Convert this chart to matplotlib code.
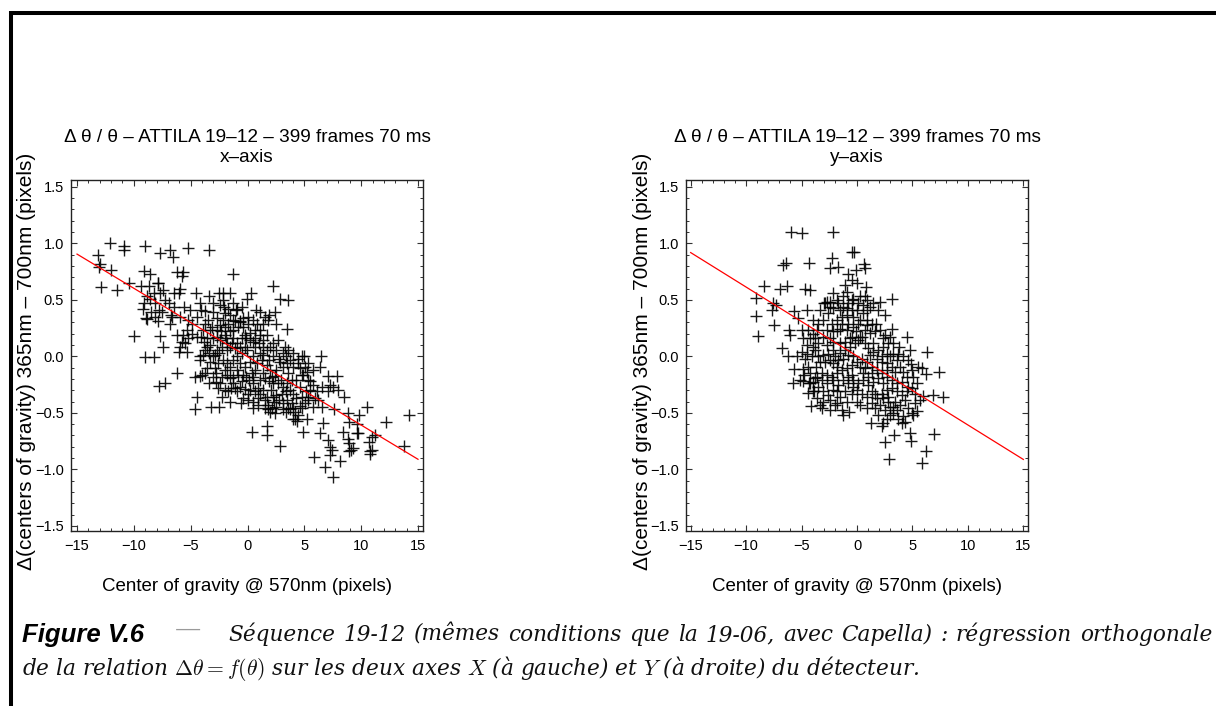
import matplotlib.pyplot as plt
from matplotlib.lines import Line2D
from matplotlib.ticker import MultipleLocator

plt.rcParams["font.family"] = ["Liberation Sans", "DejaVu Sans"]
plt.rcParams["mathtext.fontset"] = "cm"

# points (x = centre of gravity, y = delta)
left_points = [
    (-13.15, 0.90), (-12.95, 0.82), (-13.05, 0.79), (-12.07, 1.00), (-12.0, 0.76), (-12.86, 0.61),
    (-11.5, 0.59), (-10.9, 0.975), (-10.9, 0.94), (-10.4, 0.65), (-10.0, 0.18), (-9.0, 0.975),
    (-9.08, 0.755), (-9.4, 0.62), (-8.7, 0.62), (-8.56, 0.73), (-9.15, 0.47), (-9.2, 0.42),
    (-8.9, 0.34), (-8.8, 0.33), (-9.0, -0.01), (-8.27, -0.01), (-8.1, 0.47), (-7.74, 0.91),
    (-7.85, 0.65), (-7.9, 0.65), (-7.7, 0.56), (-7.8, 0.41), (-7.9, 0.31), (-7.74, 0.18),
    (-7.45, 0.08), (-7.77, -0.26), (-7.24, -0.24), (-6.8, 0.945), (-6.54, 0.88), (-6.22, 0.75),
    (-5.7, 0.75), (-5.8, 0.71), (-5.25, 0.96), (-6.5, 0.56), (-6.07, 0.56), (-5.9, 0.60),
    (-7.24, 0.50), (-7.53, 0.39), (-6.7, 0.37), (-6.6, 0.35), (-6.2, 0.19), (-5.7, 0.19),
    (-5.78, 0.13), (-6.07, 0.035), (-6.2, -0.15), (-5.1, 0.41), (-4.55, 0.56), (-5.2, 0.16),
    (-5.34, 0.035), (-4.6, -0.18), (-4.17, -0.17), (-4.46, -0.36), (-4.63, -0.47), (-4.17, 0.005),
    (-4.05, 0.17), (-4.05, 0.41), (-3.76, 0.40), (-3.38, 0.94), (-3.4, 0.53), (-3.0, 0.39),
    (-2.5, 0.56), (-2.18, 0.56), (-2.7, 0.34), (-3.3, 0.23), (-3.8, 0.13), (-3.35, 0.03),
    (-2.9, 0.01), (-2.5, 0.03), (-3.35, -0.24), (-2.8, -0.23), (-3.23, -0.45), (-2.5, -0.45),
    (-2.27, -0.36), (-1.54, -0.40), (-1.47, -0.28), (-1.83, -0.165), (-1.89, 0.16), (-1.71, 0.42),
    (-2.06, 0.44), (-1.3, 0.725), (-1.54, 0.56), (-0.89, 0.42), (-1.12, 0.31), (-0.7, 0.31),
    (-0.54, -0.415), (-0.13, 0.16), (-0.07, 0.51), (0.31, 0.56), (0.42, -0.67), (0.75, 0.41),
    (0.69, 0.23), (1.68, -0.62), (1.74, -0.70), (2.2, 0.62), (2.85, 0.51), (3.56, 0.50),
    (2.44, 0.39), (1.91, 0.365), (2.5, 0.29), (3.44, 0.24), (3.3, 0.085), (2.9, -0.79),
    (1.77, -0.47), (2.44, -0.50), (3.38, -0.49), (4.2, -0.55), (4.37, -0.57), (4.84, -0.67),
    (5.19, -0.55), (4.96, 0.0), (6.43, 0.0), (6.37, -0.09), (7.07, -0.17), (7.83, -0.17),
    (7.25, -0.25), (6.55, -0.27), (8.53, -0.36), (7.63, -0.47), (6.55, -0.45), (6.64, -0.59),
    (8.8, -0.505), (8.89, -0.58), (9.8, -0.52), (9.65, -0.60), (10.47, -0.45), (12.2, -0.58),
    (14.2, -0.52), (13.75, -0.79), (8.44, -0.67), (8.82, -0.73), (8.89, -0.77), (9.6, -0.675),
    (9.76, -0.68), (9.3, -0.81), (9.14, -0.83), (8.94, -0.84), (10.7, -0.755), (10.8, -0.84),
    (10.98, -0.83), (11.2, -0.70), (10.98, -0.71), (6.37, -0.675), (7.04, -0.74), (7.3, -0.80),
    (7.4, -0.83), (7.25, -0.87), (6.8, -0.975), (7.5, -1.07), (5.84, -0.89), (8.15, -0.925),
    (10.8, -0.86), (5.93, -0.37), (5.78, -0.45), (5.34, -0.36), (5.48, -0.22), (5.14, -0.31),
    (4.6, -0.27), (4.76, -0.165), (4.6, -0.105), (4.3, -0.21), (4.0, -0.09), (3.73, -0.03),
    (4.46, -0.02), (4.76, 0.0), (3.5, -0.06), (4.0, -0.33), (4.6, -0.44), (3.88, -0.415),
    (3.44, -0.385), (3.73, -0.47), (4.0, -0.46), (3.38, -0.31), (3.09, -0.27), (2.98, -0.21),
    (2.7, -0.24), (2.55, -0.34), (2.8, -0.385), (2.3, -0.40), (1.83, -0.43), (1.68, -0.36),
    (1.54, -0.385), (2.03, -0.30), (2.27, -0.24), (2.44, -0.17), (2.55, -0.12), (2.8, -0.02),
    (3.09, 0.03), (2.55, 0.06), (2.27, 0.0), (1.91, -0.03), (1.68, -0.075), (1.97, -0.12),
    (1.39, -0.15), (1.1, -0.21), (0.95, -0.28), (0.51, -0.24), (0.66, -0.31), (1.1, -0.33),
    (1.39, -0.30), (0.22, -0.30), (0.0, -0.33), (-0.22, -0.29), (-0.51, -0.22), (-0.13, -0.18),
    (0.37, -0.15), (0.66, -0.12), (0.8, -0.06), (1.24, -0.03), (1.39, 0.01), (1.68, 0.06),
    (1.97, 0.085), (1.39, 0.085), (1.1, 0.03), (0.51, 0.0), (0.22, -0.05), (-0.22, -0.09),
    (-0.66, -0.06), (-0.95, -0.12), (-1.24, -0.18), (-0.8, -0.165), (-1.24, -0.24), (-1.54, -0.09),
    (-1.83, -0.06), (-2.12, -0.03), (-1.98, -0.12), (-1.24, -0.03), (-0.89, 0.0), (-0.51, 0.03),
    (-0.07, 0.06), (-0.22, 0.085), (-0.66, 0.085), (-1.1, 0.07), (-1.54, 0.085), (-1.83, 0.06),
    (-2.27, 0.085), (-2.7, 0.06), (-3.0, 0.0), (-2.56, -0.06), (-2.85, -0.105), (-3.3, -0.05),
    (-3.6, 0.085), (-3.73, 0.06), (-3.3, 0.10), (-3.0, 0.16), (-2.7, 0.17), (-2.4, 0.145),
    (-1.98, 0.19), (-1.54, 0.22), (-1.24, 0.16), (-0.95, 0.115), (-0.51, 0.16), (-0.22, 0.19),
    (0.22, 0.145), (0.51, 0.13), (0.66, 0.085), (1.03, 0.115), (1.39, 0.145), (1.68, 0.19),
    (1.1, 0.19), (0.8, 0.29), (1.39, 0.29), (1.83, 0.32), (0.51, 0.32), (0.07, 0.29),
    (-0.37, 0.26), (-0.8, 0.26), (-1.24, 0.23), (-1.68, 0.29), (-2.12, 0.32), (-2.4, 0.28),
    (-2.7, 0.23), (-3.15, 0.26), (-3.44, 0.32), (-3.73, 0.29), (-3.88, 0.23), (-3.0, 0.47),
    (-2.4, 0.45), (-2.12, 0.50), (-1.24, 0.47), (-1.0, 0.41), (-0.51, 0.44), (-1.54, 0.365),
    (-1.98, 0.38), (-4.17, 0.47), (-4.46, 0.35), (-4.9, 0.29), (-5.34, 0.23), (-4.9, 0.20),
    (-4.46, 0.17), (-5.2, 0.32), (-5.63, 0.44), (-5.93, 0.35), (-6.51, 0.44), (-6.8, 0.29),
    (-6.95, 0.47), (-7.4, 0.59), (-8.27, 0.56), (-8.56, 0.51), (-8.85, 0.53), (-8.5, 0.39),
    (-8.1, 0.35), (-5.93, 0.085), (-5.49, 0.115), (-4.17, -0.03), (-3.73, -0.15), (-4.03, -0.165),
    (-3.0, -0.18), (-2.4, -0.24), (-1.98, -0.30), (-2.56, -0.28), (-1.68, -0.31), (-0.95, -0.31),
    (-0.37, -0.37), (0.07, -0.385), (0.51, -0.40), (0.95, -0.43), (1.54, -0.46), (1.97, -0.49),
    (2.55, -0.445), (3.15, -0.415), (3.59, -0.46), (4.17, -0.49), (4.0, -0.55), (4.46, -0.52),
    (4.76, -0.46), (5.05, -0.415), (5.34, -0.385), (6.2, -0.385), (6.07, -0.31), (5.49, -0.30),
    (5.78, -0.25), (5.34, -0.21), (4.9, -0.165), (5.05, -0.09), (5.34, -0.06), (5.78, -0.12),
    (7.1, -0.31), (7.54, -0.27), (7.98, -0.30), (5.2, -0.14), (4.46, -0.06), (4.0, 0.03),
    (3.59, 0.06), (3.38, 0.0), (2.85, -0.05), (3.15, -0.09), (3.59, -0.15), (3.88, -0.21),
    (3.44, -0.24), (3.73, -0.30), (4.3, -0.37), (4.76, -0.36), (3.0, -0.33), (2.27, -0.36),
    (3.15, -0.47), (2.12, -0.46), (0.51, -0.46), (0.95, -0.37), (1.54, -0.195), (1.91, -0.22),
    (2.12, -0.18), (0.51, -0.18), (0.16, -0.21), (-0.37, -0.165), (-0.66, -0.27), (-1.1, -0.28),
    (-1.54, -0.195), (-2.27, -0.18), (-2.77, -0.15), (-3.6, -0.105), (-3.88, 0.01), (-3.6, 0.16),
    (-1.83, 0.115), (-1.39, 0.115), (0.22, 0.205), (0.66, 0.16), (2.27, 0.115), (2.7, 0.145),
    (1.1, 0.23), (1.54, 0.35), (1.1, 0.395), (0.07, 0.35), (-0.37, 0.335), (-0.66, 0.305),
    (-1.24, 0.32), (-1.98, 0.26), (-2.33, 0.22),
]

right_points = [
    (-5.92, 1.10), (-4.93, 1.09), (-2.13, 1.10), (-0.42, 0.92), (-0.24, 0.92), (-2.22, 0.87),
    (-2.43, 0.78), (-1.68, 0.79), (-6.4, 0.83), (-6.7, 0.81), (-4.3, 0.83), (0.66, 0.82),
    (0.72, 0.78), (-0.78, 0.73), (-0.09, 0.76), (-0.48, 0.675), (-1.08, 0.63), (-0.93, 0.565),
    (-0.03, 0.645), (0.78, 0.615), (0.72, 0.53), (0.87, 0.50), (-8.36, 0.62), (-6.94, 0.60),
    (-6.34, 0.62), (-4.69, 0.60), (-4.24, 0.59), (-9.14, 0.52), (-9.14, 0.36), (-8.96, 0.18),
    (-7.54, 0.47), (-7.3, 0.45), (-7.7, 0.41), (-7.45, 0.28), (-5.65, 0.40), (-4.54, 0.41),
    (-5.29, 0.34), (-6.16, 0.23), (-6.04, 0.19), (-6.79, 0.07), (-6.19, 0.005), (-5.44, 0.0),
    (-5.65, -0.11), (-4.84, -0.11), (-5.74, -0.24), (-4.9, -0.22), (-4.33, -0.24), (-4.39, -0.32),
    (-3.94, -0.31), (-4.15, -0.44), (-3.34, -0.43), (-3.19, -0.46), (-2.43, -0.39), (-1.83, -0.41),
    (-1.29, -0.52), (-0.69, -0.49), (-0.93, -0.40), (-0.03, -0.40), (1.23, -0.59), (2.22, -0.62),
    (2.52, -0.755), (2.92, -0.91), (3.34, -0.695), (4.78, -0.68), (4.84, -0.745), (6.97, -0.69),
    (6.22, -0.835), (5.83, -0.945), (2.37, -0.59), (2.98, -0.52), (4.03, -0.59), (4.18, -0.53),
    (4.93, -0.50), (5.44, -0.48), (5.98, -0.35), (6.88, -0.34), (7.78, -0.36), (7.39, -0.14),
    (6.22, -0.155), (5.83, -0.105), (6.28, 0.04), (4.87, -0.07), (4.78, 0.055), (4.54, 0.175),
    (3.82, 0.085), (3.13, 0.505), (2.07, 0.485), (2.52, 0.365), (1.68, 0.29), (3.16, 0.24),
    (2.98, 0.175), (2.52, 0.19), (1.92, 0.41), (1.17, 0.44), (1.47, 0.47), (0.27, 0.53),
    (-0.33, 0.51), (-0.78, 0.47), (-1.29, 0.44), (-1.83, 0.50), (-2.43, 0.485), (-2.98, 0.47),
    (-3.34, 0.41), (-3.94, 0.32), (-3.64, 0.23), (-4.39, 0.23), (-4.99, 0.23), (-4.9, 0.16),
    (-4.54, 0.10), (-3.94, 0.085), (-3.79, 0.055), (-4.69, -0.02), (-4.39, -0.09), (-3.7, -0.09),
    (-3.34, -0.05), (-2.89, -0.05), (-2.43, -0.03), (-2.13, -0.06), (-1.77, -0.09), (-1.98, 0.0),
    (-1.53, 0.03), (-1.08, 0.055), (-0.63, 0.085), (-0.18, 0.115), (0.12, 0.145), (0.42, 0.175),
    (0.72, 0.23), (0.87, 0.28), (0.27, 0.32), (-0.33, 0.35), (-0.93, 0.365), (-1.38, 0.35),
    (-1.83, 0.32), (-2.28, 0.29), (-2.73, 0.23), (-3.04, 0.175), (-2.43, 0.16), (-1.83, 0.22),
    (-1.53, 0.245), (-0.93, 0.23), (-0.48, 0.175), (-0.09, 0.22), (0.27, 0.175), (1.17, 0.205),
    (1.47, 0.115), (1.92, 0.055), (2.37, 0.085), (2.67, 0.025), (2.98, 0.0), (3.28, 0.025),
    (3.58, -0.03), (3.88, -0.09), (4.18, -0.135), (4.48, -0.18), (4.03, -0.225), (3.58, -0.24),
    (3.13, -0.21), (2.67, -0.18), (2.22, -0.15), (1.77, -0.12), (1.32, -0.09), (0.87, -0.05),
    (0.42, -0.02), (-0.03, -0.05), (-0.48, -0.075), (-0.93, -0.105), (-1.38, -0.12), (-1.83, -0.15),
    (-2.28, -0.18), (-2.73, -0.165), (-3.19, -0.15), (-3.64, -0.18), (-3.94, -0.225), (-3.49, -0.27),
    (-3.04, -0.31), (-2.58, -0.34), (-2.13, -0.30), (-1.68, -0.25), (-1.23, -0.21), (-0.78, -0.24),
    (-0.33, -0.27), (0.12, -0.24), (0.57, -0.21), (1.02, -0.25), (1.32, -0.31), (0.87, -0.36),
    (0.42, -0.33), (-0.03, -0.30), (-0.48, -0.33), (-1.08, -0.31), (-1.53, -0.36), (-1.98, -0.43),
    (-2.43, -0.475), (-1.38, -0.475), (0.27, -0.43), (0.87, -0.46), (1.32, -0.415), (1.77, -0.37),
    (2.22, -0.33), (2.67, -0.30), (3.13, -0.28), (3.58, -0.31), (4.03, -0.34), (4.48, -0.31),
    (4.93, -0.28), (5.23, -0.33), (5.38, -0.24), (5.08, -0.18), (4.63, -0.27), (4.33, -0.385),
    (3.88, -0.43), (3.43, -0.40), (2.98, -0.445), (2.52, -0.475), (2.07, -0.43), (1.62, -0.46),
    (1.92, -0.52), (2.67, -0.55), (3.28, -0.50), (3.73, -0.55), (4.33, -0.58), (4.63, -0.46),
    (5.23, -0.415), (5.68, -0.385), (5.08, -0.52), (3.58, -0.475), (2.82, -0.40), (2.37, -0.37),
    (1.62, -0.33), (1.47, -0.225), (1.92, -0.195), (2.37, -0.24), (2.82, -0.36), (3.28, -0.445),
    (-0.33, -0.21), (-0.78, -0.18), (-2.13, -0.21), (-2.73, -0.24), (-3.19, -0.21), (-3.79, -0.195),
    (-4.24, -0.15), (-4.78, -0.165), (-5.14, -0.21), (-4.24, -0.24), (-3.85, -0.31), (-3.64, -0.37),
    (-3.04, -0.40), (-1.83, -0.31), (-0.48, -0.165), (0.57, -0.15), (1.02, -0.18), (1.32, -0.15),
    (0.72, -0.105), (0.27, -0.09), (-0.33, 0.0), (-0.78, 0.01), (-1.23, -0.02), (-1.68, -0.03),
    (-2.13, 0.055), (-2.58, 0.025), (-3.04, 0.01), (-3.49, 0.0), (-4.09, 0.0), (-4.54, 0.025),
    (-4.99, 0.04), (-3.49, 0.115), (-2.73, 0.10), (-2.13, 0.13), (-1.53, 0.115), (-1.08, 0.13),
    (-0.63, 0.16), (0.72, 0.115), (1.02, 0.07), (1.47, 0.04), (1.17, 0.01), (1.77, -0.02),
    (2.22, -0.05), (2.67, -0.06), (3.13, -0.09), (3.43, -0.135), (2.67, -0.12), (2.22, 0.0),
    (2.37, 0.16), (2.82, 0.115), (3.28, 0.115), (3.73, 0.025), (4.18, 0.0), (4.63, -0.03),
    (4.93, -0.12), (5.53, -0.09), (2.07, 0.23), (1.62, 0.22), (1.32, 0.29), (0.87, 0.32),
    (0.57, 0.38), (-0.03, 0.41), (-0.48, 0.41), (-0.93, 0.425), (-1.53, 0.41), (-2.13, 0.425),
    (-2.58, 0.38), (-3.04, 0.32), (-3.49, 0.29), (-3.94, 0.20), (-4.24, 0.16), (-3.79, 0.16),
    (-2.19, 0.22), (-1.38, 0.29), (-0.78, 0.29), (-0.33, 0.26), (0.12, 0.29), (0.57, 0.455),
    (0.87, 0.41), (0.12, 0.47), (-0.48, 0.50), (-1.23, 0.53), (-1.68, 0.47), (-2.13, 0.56),
    (-2.73, 0.485), (-2.89, 0.47), (-2.43, 0.44),
]

# orthogonal regression lines
left_fit = (-0.0605, -0.003)
right_fit = (-0.061, 0.003)
fit_range = [-15, 15]

title_line = "\u0394 \u03b8 / \u03b8 \u2013 ATTILA 19\u201312 \u2013 399 frames 70 ms"
panel_names = ["x\u2013axis", "y\u2013axis"]
x_label = "Center of gravity @ 570nm (pixels)"
y_label = "\u0394(centers of gravity) 365nm \u2013 700nm (pixels)"

caption_head = "Figure V.6"
caption_line1 = ("S\u00e9quence 19-12 (m\u00eames conditions que la 19-06, avec Capella) : "
                 "r\u00e9gression orthogonale")
caption_line2 = ("de la relation $\\Delta\\theta = f(\\theta)$ sur les deux axes $X$ "
                 "(\u00e0 gauche) et $Y$ (\u00e0 droite) du d\u00e9tecteur.")


def draw_panel(ax, points, fit, name, xlim):
    xs = [p[0] for p in points]
    ys = [p[1] for p in points]
    ax.plot(xs, ys, linestyle="none", marker="+", color="black",
            markersize=9, markeredgewidth=1.0, alpha=0.9)
    slope, icpt = fit
    ax.plot(fit_range, [slope * v + icpt for v in fit_range], color="red", lw=0.9)

    ax.set_xlim(*xlim)
    ax.set_ylim(-1.545, 1.56)
    ax.xaxis.set_major_locator(MultipleLocator(5))
    ax.xaxis.set_minor_locator(MultipleLocator(1))
    ax.yaxis.set_major_locator(MultipleLocator(0.5))
    ax.yaxis.set_minor_locator(MultipleLocator(0.1))
    ax.yaxis.set_major_formatter(plt.FuncFormatter(lambda v, p: f"{v:.1f}".replace("-", "\u2212")))
    ax.tick_params(which="both", direction="in", top=True, right=True, labelsize=10.5, color="#333333")
    ax.tick_params(which="major", length=4.5, width=0.8)
    ax.tick_params(which="minor", length=2.5, width=0.7)
    ax.tick_params(axis="x", pad=6)
    ax.tick_params(axis="y", pad=5)
    for sp in ax.spines.values():
        sp.set_linewidth(1.0)
        sp.set_color("#222222")

    ax.set_title(f"{title_line}\n{name}", fontsize=13.7, pad=13, linespacing=1.25)
    ax.set_xlabel(x_label, fontsize=13.5)
    ax.set_ylabel(y_label, fontsize=15)
    ax.xaxis.set_label_coords(0.5, -0.135)
    ax.yaxis.set_label_coords(-0.1, 0.484)


def justified_line(fig, text, x0, x1, y, **kw):
    """Place the words of one caption line so they fill x0..x1 (figure pixels)."""
    W = fig.get_figwidth() * fig.dpi
    words = text.split(" ")
    arts = [fig.text(0, y, w, va="baseline", **kw) for w in words]
    renderer = fig.canvas.get_renderer()
    widths = [a.get_window_extent(renderer).width for a in arts]
    gap = (x1 - x0 - sum(widths)) / (len(words) - 1)
    x = x0
    for a, w in zip(arts, widths):
        a.set_x(x / W)
        x += w + gap


def main() -> None:
    fig = plt.figure(figsize=(12.16, 7.06), dpi=100)
    W, H = 1216, 706

    ax1 = fig.add_axes([71 / W, 1 - 531 / H, 352 / W, 351 / H])
    ax2 = fig.add_axes([686 / W, 1 - 531 / H, 342 / W, 351 / H])
    draw_panel(ax1, left_points, left_fit, panel_names[0], (-15.53, 15.44))
    draw_panel(ax2, right_points, right_fit, panel_names[1], (-15.42, 15.42))

    # page frame (top rule and left rule)
    fig.add_artist(Line2D([11 / W, 1.0], [1 - 13 / H, 1 - 13 / H], color="black", lw=2.9,
                          transform=fig.transFigure, solid_capstyle="butt"))
    fig.add_artist(Line2D([11 / W, 11 / W], [0.0, 1 - 11 / H], color="black", lw=2.9,
                          transform=fig.transFigure, solid_capstyle="butt"))

    # caption
    serif = dict(fontsize=15.6, family="DejaVu Serif", fontstyle="italic", color="#111111")
    fig.text(22 / W, 1 - 642 / H, caption_head, fontsize=18.5, fontweight="bold",
             fontstyle="italic", va="baseline")
    fig.text(175 / W, 1 - 637 / H, "\u2014", fontsize=19, color="#9a9a9a",
             family="DejaVu Serif", va="baseline")
    justified_line(fig, caption_line1, 228, 1212, 1 - 641 / H, **serif)
    fig.text(22 / W, 1 - 675 / H, caption_line2, va="baseline", **serif)

    fig.savefig("out.png", dpi=100)


if __name__ == "__main__":
    main()
